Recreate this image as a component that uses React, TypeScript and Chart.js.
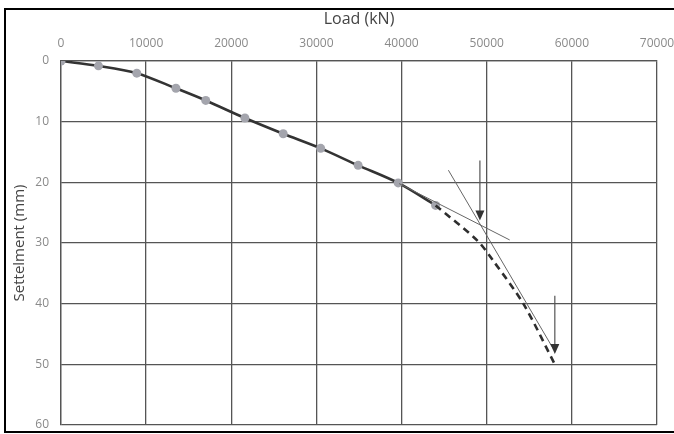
import React, { useEffect, useRef } from "react";
import { Chart, registerables } from "chart.js";

Chart.register(...registerables);

// Measured test points
const loadKN = [0, 4400, 8900, 13500, 17000, 21600, 26100, 30500, 34900, 39600, 44000];
const settlementMM = [0, 0.8, 2.0, 4.5, 6.5, 9.4, 12.0, 14.4, 17.2, 20.1, 23.8];

// Extrapolated (dashed) curve
const extrapLoad = [44000, 48900, 50800, 54300, 58000];
const extrapSettle = [23.8, 29.6, 33.0, 40.0, 50.0];

// Thin construction (tangent) lines
const tangent1Load = [39700, 52700];
const tangent1Settle = [20.2, 29.5];
const tangent2Load = [45500, 57800];
const tangent2Settle = [18.0, 47.4];

// Arrows
const arrowLoad = [49200, 58000];
const arrowFrom = [16.4, 38.7];
const arrowTo = [26.3, 48.3];

const xTicks = [0, 10000, 20000, 30000, 40000, 50000, 60000, 70000];
const yTicks = [0, 10, 20, 30, 40, 50, 60];

const pts = (xs: number[], ys: number[]) => xs.map((x, i) => ({ x, y: ys[i] }));

const FONT = "'Open Sans', 'Liberation Sans', sans-serif";

const arrowPlugin = {
  id: "arrows",
  afterDatasetsDraw(chart: any) {
    const { ctx, scales } = chart;
    const xs = scales.x;
    const ys = scales.y;
    ctx.save();
    for (let i = 0; i < arrowLoad.length; i++) {
      const x = xs.getPixelForValue(arrowLoad[i]);
      const y0 = ys.getPixelForValue(arrowFrom[i]);
      const y1 = ys.getPixelForValue(arrowTo[i]);
      ctx.strokeStyle = "#555";
      ctx.lineWidth = 1.2;
      ctx.beginPath();
      ctx.moveTo(x, y0);
      ctx.lineTo(x, y1 - 8);
      ctx.stroke();
      ctx.fillStyle = "#333";
      ctx.beginPath();
      ctx.moveTo(x - 4.5, y1 - 10);
      ctx.lineTo(x + 4.5, y1 - 10);
      ctx.lineTo(x, y1);
      ctx.closePath();
      ctx.fill();
    }
    ctx.restore();
  },
  afterDraw(chart: any) {
    const { ctx } = chart;
    ctx.save();
    ctx.strokeStyle = "#000";
    ctx.lineWidth = 2;
    ctx.strokeRect(5, 9, 690, 423);
    ctx.restore();
  },
};

export default function App() {
  const ref = useRef<HTMLCanvasElement | null>(null);
  useEffect(() => {
    if (!ref.current) return;
    const chart = new Chart(ref.current, {
      type: "scatter",
      data: {
        datasets: [
          {
            label: "tangent1",
            data: pts(tangent1Load, tangent1Settle),
            showLine: true,
            borderColor: "#666",
            borderWidth: 1,
            pointRadius: 0,
          },
          {
            label: "tangent2",
            data: pts(tangent2Load, tangent2Settle),
            showLine: true,
            borderColor: "#666",
            borderWidth: 1,
            pointRadius: 0,
          },
          {
            label: "extrapolated",
            data: pts(extrapLoad, extrapSettle),
            showLine: true,
            borderColor: "#2e2e2e",
            borderWidth: 2.6,
            borderDash: [7, 5],
            tension: 0.3,
            pointRadius: 0,
          },
          {
            label: "measured",
            data: pts(loadKN, settlementMM),
            showLine: true,
            borderColor: "#333",
            borderWidth: 2.6,
            tension: 0.3,
            pointRadius: 4.5,
            pointBackgroundColor: "#a4a5ad",
            pointBorderColor: "#a4a5ad",
            pointBorderWidth: 0,
          },
        ],
      },
      options: {
        animation: false,
        responsive: true,
        maintainAspectRatio: false,
        layout: { padding: { left: 0, top: 0, right: 17, bottom: 9 } },
        plugins: { legend: { display: false }, tooltip: { enabled: false } },
        scales: {
          x: {
            type: "linear",
            position: "top",
            min: 0,
            max: 70000,
            afterBuildTicks: (s: any) => {
              s.ticks = xTicks.map((v) => ({ value: v }));
            },
            afterFit: (s: any) => {
              s.height = 61;
              s.paddingLeft = 0;
              s.paddingRight = 0;
            },
            ticks: {
              color: "#8a8a8a",
              font: { family: FONT, size: 12 },
              padding: 10,
              maxRotation: 0,
              autoSkip: false,
              callback: (v: any) => String(v),
            },
            grid: { color: "#555", lineWidth: 1.3, drawTicks: false },
            border: { color: "#555", width: 1.3 },
            title: {
              display: true,
              text: "Load (kN)",
              color: "#444",
              font: { family: FONT, size: 16 },
              padding: { top: 10, bottom: 0 },
            },
          },
          y: {
            type: "linear",
            reverse: true,
            min: 0,
            max: 60,
            afterBuildTicks: (s: any) => {
              s.ticks = yTicks.map((v) => ({ value: v }));
            },
            afterFit: (s: any) => {
              s.width = 61;
              s.paddingTop = 0;
              s.paddingBottom = 0;
            },
            ticks: {
              color: "#8a8a8a",
              font: { family: FONT, size: 12 },
              padding: 12,
              autoSkip: false,
              callback: (v: any) => String(v),
            },
            grid: { color: "#555", lineWidth: 1.3, drawTicks: false },
            border: { color: "#555", width: 1.3 },
            title: {
              display: true,
              text: "Settelment (mm)",
              color: "#444",
              font: { family: FONT, size: 15 },
              padding: { top: 11, bottom: 0 },
            },
          },
        },
      },
      plugins: [arrowPlugin],
    } as any);
    return () => chart.destroy();
  }, []);
  return (
    <div style={{ position: "fixed", left: 0, top: 0, width: 674, height: 434, background: "#fff" }}>
      <canvas ref={ref} />
    </div>
  );
}
